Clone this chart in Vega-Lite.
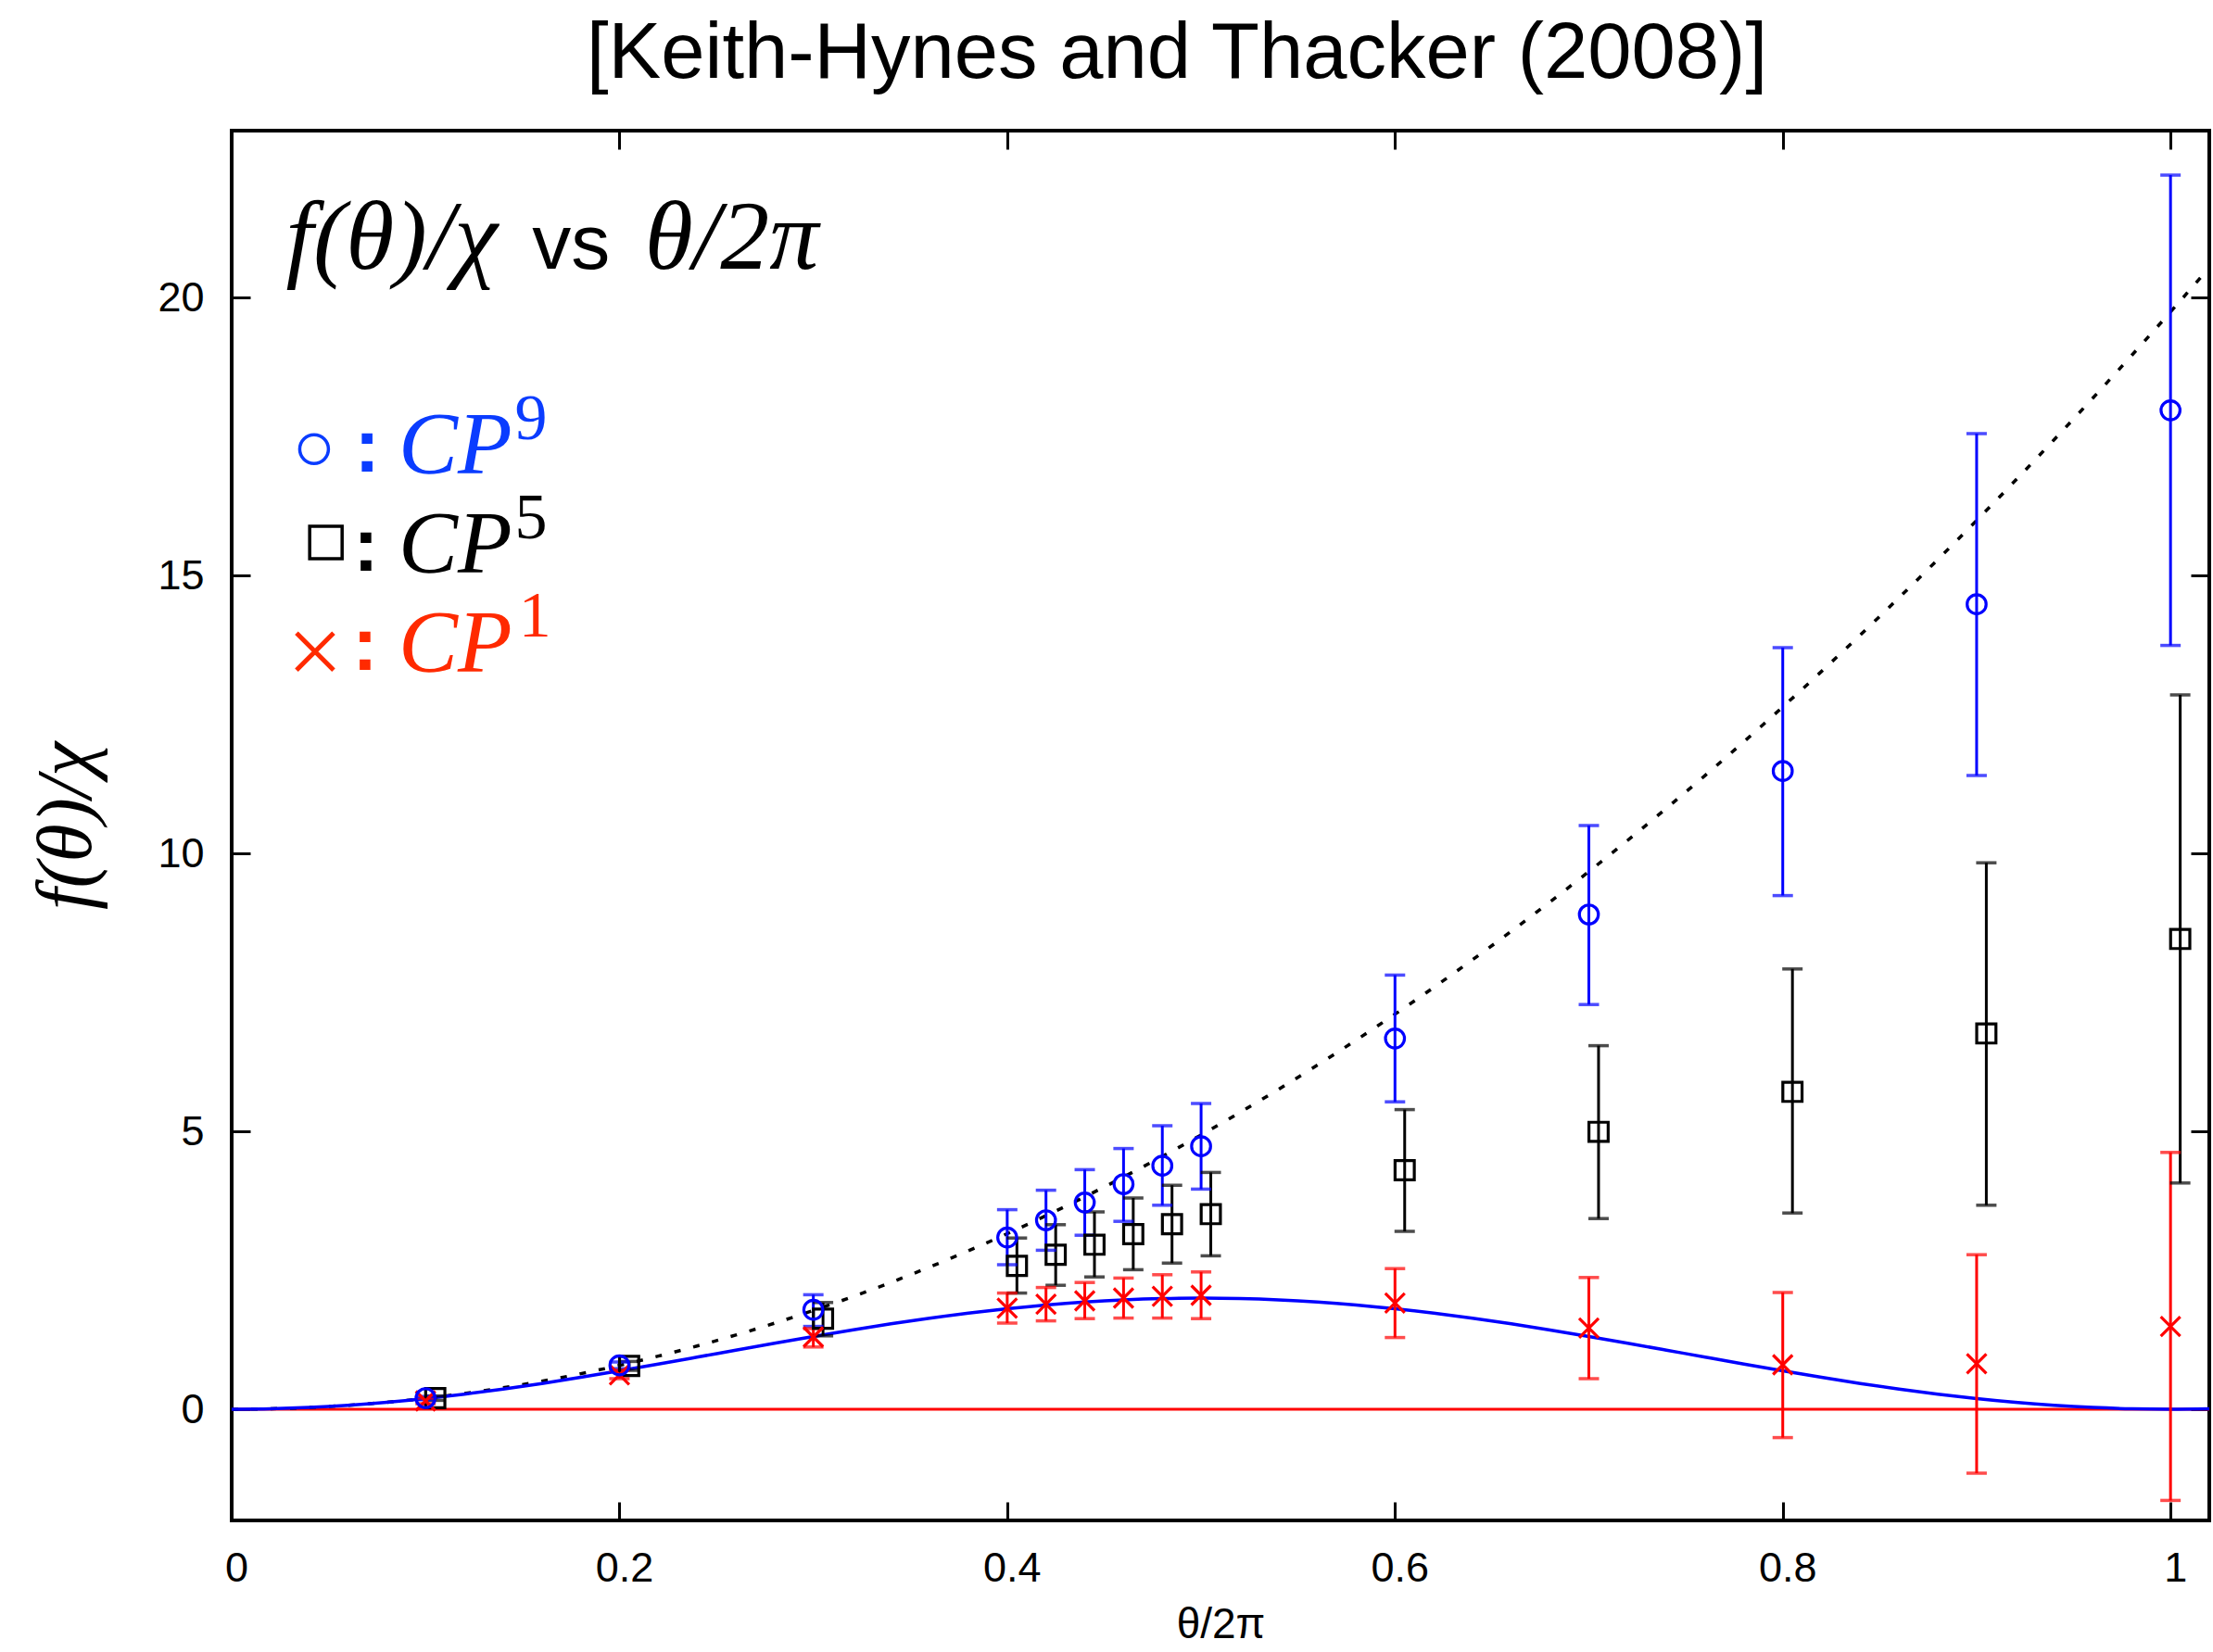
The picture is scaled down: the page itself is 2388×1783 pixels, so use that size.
{
  "$schema": "https://vega.github.io/schema/vega-lite/v6.json",
  "width": 2134,
  "height": 1500,
  "autosize": {"type": "none"},
  "padding": {"left": 250, "top": 141, "right": 4, "bottom": 142},
  "background": "white",
  "config": {
    "view": {"stroke": "black", "strokeWidth": 4},
    "axis": {"grid": false, "domain": false, "tickColor": "black", "tickWidth": 3, "tickSize": -20, "labelColor": "black", "titleColor": "black"}
  },
  "title": {
    "text": "[Keith-Hynes and Thacker (2008)]",
    "font": "Liberation Sans",
    "fontSize": 85,
    "fontWeight": "normal",
    "color": "black",
    "anchor": "middle",
    "frame": "group",
    "dx": -47,
    "offset": -29,
    "baseline": "alphabetic"
  },
  "datasets": {
    "zero": [{"x": 0, "y": 0}, {"x": 1.02, "y": 0}],
    "quad": [
      {"x": 0, "y": 0}, {"x": 0.02, "y": 0.0079}, {"x": 0.04, "y": 0.0316}, {"x": 0.06, "y": 0.0711}, {"x": 0.08, "y": 0.1263},
      {"x": 0.1, "y": 0.1974}, {"x": 0.12, "y": 0.2843}, {"x": 0.14, "y": 0.3869}, {"x": 0.16, "y": 0.5053}, {"x": 0.18, "y": 0.6396},
      {"x": 0.2, "y": 0.7896}, {"x": 0.22, "y": 0.9554}, {"x": 0.24, "y": 1.137}, {"x": 0.26, "y": 1.3344}, {"x": 0.28, "y": 1.5476},
      {"x": 0.3, "y": 1.7766}, {"x": 0.32, "y": 2.0214}, {"x": 0.34, "y": 2.2819}, {"x": 0.36, "y": 2.5583}, {"x": 0.38, "y": 2.8505},
      {"x": 0.4, "y": 3.1584}, {"x": 0.42, "y": 3.4821}, {"x": 0.44, "y": 3.8217}, {"x": 0.46, "y": 4.177}, {"x": 0.48, "y": 4.5481},
      {"x": 0.5, "y": 4.935}, {"x": 0.52, "y": 5.3377}, {"x": 0.54, "y": 5.7562}, {"x": 0.56, "y": 6.1905}, {"x": 0.58, "y": 6.6406},
      {"x": 0.6, "y": 7.1064}, {"x": 0.62, "y": 7.5881}, {"x": 0.64, "y": 8.0856}, {"x": 0.66, "y": 8.5988}, {"x": 0.68, "y": 9.1279},
      {"x": 0.7, "y": 9.6726}, {"x": 0.72, "y": 10.2332}, {"x": 0.74, "y": 10.8096}, {"x": 0.76, "y": 11.4018}, {"x": 0.78, "y": 12.0097},
      {"x": 0.8, "y": 12.6335}, {"x": 0.82, "y": 13.273}, {"x": 0.84, "y": 13.9284}, {"x": 0.86, "y": 14.5995}, {"x": 0.88, "y": 15.2864},
      {"x": 0.9, "y": 15.9891}, {"x": 0.92, "y": 16.7076}, {"x": 0.94, "y": 17.4419}, {"x": 0.96, "y": 18.192}, {"x": 0.98, "y": 18.9578},
      {"x": 1.0, "y": 19.7392}, {"x": 1.02, "y": 20.5366}
    ],
    "dig": [
      {"x": 0, "y": 0}, {"x": 0.02, "y": 0.0079}, {"x": 0.04, "y": 0.0314}, {"x": 0.06, "y": 0.0702}, {"x": 0.08, "y": 0.1237},
      {"x": 0.1, "y": 0.191}, {"x": 0.12, "y": 0.271}, {"x": 0.14, "y": 0.3626}, {"x": 0.16, "y": 0.4642}, {"x": 0.18, "y": 0.5742},
      {"x": 0.2, "y": 0.691}, {"x": 0.22, "y": 0.8126}, {"x": 0.24, "y": 0.9372}, {"x": 0.26, "y": 1.0628}, {"x": 0.28, "y": 1.1874},
      {"x": 0.3, "y": 1.309}, {"x": 0.32, "y": 1.4258}, {"x": 0.34, "y": 1.5358}, {"x": 0.36, "y": 1.6374}, {"x": 0.38, "y": 1.729},
      {"x": 0.4, "y": 1.809}, {"x": 0.42, "y": 1.8763}, {"x": 0.44, "y": 1.9298}, {"x": 0.46, "y": 1.9686}, {"x": 0.48, "y": 1.9921},
      {"x": 0.5, "y": 2.0}, {"x": 0.52, "y": 1.9921}, {"x": 0.54, "y": 1.9686}, {"x": 0.56, "y": 1.9298}, {"x": 0.58, "y": 1.8763},
      {"x": 0.6, "y": 1.809}, {"x": 0.62, "y": 1.729}, {"x": 0.64, "y": 1.6374}, {"x": 0.66, "y": 1.5358}, {"x": 0.68, "y": 1.4258},
      {"x": 0.7, "y": 1.309}, {"x": 0.72, "y": 1.1874}, {"x": 0.74, "y": 1.0628}, {"x": 0.76, "y": 0.9372}, {"x": 0.78, "y": 0.8126},
      {"x": 0.8, "y": 0.691}, {"x": 0.82, "y": 0.5742}, {"x": 0.84, "y": 0.4642}, {"x": 0.86, "y": 0.3626}, {"x": 0.88, "y": 0.271},
      {"x": 0.9, "y": 0.191}, {"x": 0.92, "y": 0.1237}, {"x": 0.94, "y": 0.0702}, {"x": 0.96, "y": 0.0314}, {"x": 0.98, "y": 0.0079},
      {"x": 1.0, "y": 0}, {"x": 1.02, "y": 0.0079}
    ],
    "points": [
      {"series": "CP5", "x": 0.105, "y": 0.2, "lo": 0.16, "hi": 0.24},
      {"series": "CP5", "x": 0.205, "y": 0.78, "lo": 0.7, "hi": 0.86},
      {"series": "CP5", "x": 0.305, "y": 1.63, "lo": 1.32, "hi": 1.92},
      {"series": "CP5", "x": 0.405, "y": 2.58, "lo": 2.09, "hi": 3.08},
      {"series": "CP5", "x": 0.425, "y": 2.78, "lo": 2.23, "hi": 3.32},
      {"series": "CP5", "x": 0.445, "y": 2.96, "lo": 2.38, "hi": 3.55},
      {"series": "CP5", "x": 0.465, "y": 3.15, "lo": 2.51, "hi": 3.8},
      {"series": "CP5", "x": 0.485, "y": 3.33, "lo": 2.63, "hi": 4.03},
      {"series": "CP5", "x": 0.505, "y": 3.51, "lo": 2.76, "hi": 4.26},
      {"series": "CP5", "x": 0.605, "y": 4.3, "lo": 3.2, "hi": 5.39},
      {"series": "CP5", "x": 0.705, "y": 4.99, "lo": 3.43, "hi": 6.54},
      {"series": "CP5", "x": 0.805, "y": 5.71, "lo": 3.53, "hi": 7.92},
      {"series": "CP5", "x": 0.905, "y": 6.76, "lo": 3.67, "hi": 9.83},
      {"series": "CP5", "x": 1.005, "y": 8.46, "lo": 4.07, "hi": 12.85},
      {"series": "CP1", "x": 0.1, "y": 0.15, "lo": 0.1, "hi": 0.2},
      {"series": "CP1", "x": 0.2, "y": 0.62, "lo": 0.55, "hi": 0.7},
      {"series": "CP1", "x": 0.3, "y": 1.3, "lo": 1.12, "hi": 1.45},
      {"series": "CP1", "x": 0.4, "y": 1.82, "lo": 1.55, "hi": 2.09},
      {"series": "CP1", "x": 0.42, "y": 1.89, "lo": 1.59, "hi": 2.19},
      {"series": "CP1", "x": 0.44, "y": 1.95, "lo": 1.63, "hi": 2.28},
      {"series": "CP1", "x": 0.46, "y": 2.0, "lo": 1.64, "hi": 2.36},
      {"series": "CP1", "x": 0.48, "y": 2.03, "lo": 1.64, "hi": 2.42},
      {"series": "CP1", "x": 0.5, "y": 2.05, "lo": 1.63, "hi": 2.47},
      {"series": "CP1", "x": 0.6, "y": 1.91, "lo": 1.29, "hi": 2.53},
      {"series": "CP1", "x": 0.7, "y": 1.46, "lo": 0.55, "hi": 2.37},
      {"series": "CP1", "x": 0.8, "y": 0.8, "lo": -0.51, "hi": 2.1},
      {"series": "CP1", "x": 0.9, "y": 0.82, "lo": -1.15, "hi": 2.78},
      {"series": "CP1", "x": 1.0, "y": 1.49, "lo": -1.64, "hi": 4.62},
      {"series": "CP9", "x": 0.1, "y": 0.2, "lo": 0.17, "hi": 0.23},
      {"series": "CP9", "x": 0.2, "y": 0.79, "lo": 0.73, "hi": 0.85},
      {"series": "CP9", "x": 0.3, "y": 1.79, "lo": 1.49, "hi": 2.06},
      {"series": "CP9", "x": 0.4, "y": 3.09, "lo": 2.6, "hi": 3.59},
      {"series": "CP9", "x": 0.42, "y": 3.4, "lo": 2.86, "hi": 3.94},
      {"series": "CP9", "x": 0.44, "y": 3.72, "lo": 3.13, "hi": 4.31},
      {"series": "CP9", "x": 0.46, "y": 4.05, "lo": 3.38, "hi": 4.69},
      {"series": "CP9", "x": 0.48, "y": 4.38, "lo": 3.67, "hi": 5.1},
      {"series": "CP9", "x": 0.5, "y": 4.73, "lo": 3.96, "hi": 5.5},
      {"series": "CP9", "x": 0.6, "y": 6.67, "lo": 5.53, "hi": 7.81},
      {"series": "CP9", "x": 0.7, "y": 8.9, "lo": 7.28, "hi": 10.5},
      {"series": "CP9", "x": 0.8, "y": 11.48, "lo": 9.24, "hi": 13.7},
      {"series": "CP9", "x": 0.9, "y": 14.48, "lo": 11.4, "hi": 17.55},
      {"series": "CP9", "x": 1.0, "y": 17.97, "lo": 13.74, "hi": 22.2}
    ]
  },
  "resolve": {"axis": {"x": "independent", "y": "independent"}},
  "layer": [
    {
      "data": {"name": "zero"},
      "mark": {"type": "line", "color": "#ff0000", "strokeWidth": 3},
      "encoding": {
        "x": {"field": "x", "type": "quantitative", "scale": {"domain": [0, 1.02], "nice": false, "zero": false},
          "axis": {"orient": "bottom", "values": [0, 0.2, 0.4, 0.6, 0.8, 1], "format": "~g", "labelFlush": false, "labelOffset": 5,
            "labelFont": "Liberation Sans", "labelFontSize": 45, "labelPadding": 49,
            "title": "θ/2π", "titleFont": "Liberation Sans", "titleFontSize": 46, "titleFontWeight": "normal", "titlePadding": 16}},
        "y": {"field": "y", "type": "quantitative", "scale": {"domain": [-2, 23], "nice": false, "zero": false},
          "axis": {"orient": "left", "values": [0, 5, 10, 15, 20], "labelFont": "Liberation Sans", "labelFontSize": 45, "labelPadding": 50,
            "title": "f(θ)/χ", "titleFont": "Liberation Serif", "titleFontStyle": "italic", "titleFontSize": 84, "titleFontWeight": "normal", "titlePadding": 54}}
      }
    },
    {
      "data": {"name": "quad"},
      "mark": {"type": "line", "color": "black", "strokeWidth": 3.5, "strokeDash": [7, 14], "interpolate": "monotone"},
      "encoding": {
        "x": {"field": "x", "type": "quantitative", "axis": {"orient": "top", "values": [0, 0.2, 0.4, 0.6, 0.8, 1], "labels": false, "title": null}},
        "y": {"field": "y", "type": "quantitative", "axis": {"orient": "right", "values": [0, 5, 10, 15, 20], "labels": false, "title": null}}
      }
    },
    {
      "data": {"name": "dig"},
      "mark": {"type": "line", "color": "#0000ff", "strokeWidth": 3.5, "interpolate": "monotone"},
      "encoding": {
        "x": {"field": "x", "type": "quantitative", "axis": null},
        "y": {"field": "y", "type": "quantitative", "axis": null}
      }
    },
    {
      "data": {"name": "points"},
      "layer": [
        {
          "mark": {"type": "rule", "strokeWidth": 3},
          "encoding": {
            "x": {"field": "x", "type": "quantitative", "axis": null},
            "y": {"field": "lo", "type": "quantitative", "axis": null},
            "y2": {"field": "hi"},
            "color": {"field": "series", "type": "nominal", "scale": {"domain": ["CP9", "CP5", "CP1"], "range": ["#0000ff", "#000000", "#ff0000"]}, "legend": null}
          }
        },
        {
          "mark": {"type": "tick", "orient": "horizontal", "size": 22, "thickness": 3.5},
          "encoding": {
            "x": {"field": "x", "type": "quantitative", "axis": null},
            "y": {"field": "lo", "type": "quantitative", "axis": null},
            "color": {"field": "series", "type": "nominal", "legend": null}
          }
        },
        {
          "mark": {"type": "tick", "orient": "horizontal", "size": 22, "thickness": 3.5},
          "encoding": {
            "x": {"field": "x", "type": "quantitative", "axis": null},
            "y": {"field": "hi", "type": "quantitative", "axis": null},
            "color": {"field": "series", "type": "nominal", "legend": null}
          }
        },
        {
          "mark": {"type": "point", "filled": false, "strokeWidth": 3.2, "opacity": 1},
          "encoding": {
            "x": {"field": "x", "type": "quantitative", "axis": null},
            "y": {"field": "y", "type": "quantitative", "axis": null},
            "color": {"field": "series", "type": "nominal", "legend": null},
            "shape": {"field": "series", "type": "nominal", "scale": {"domain": ["CP9", "CP5", "CP1"], "range": ["circle", "square", "M-1,-1L1,1M-1,1L1,-1"]}, "legend": null},
            "size": {"field": "series", "type": "nominal", "scale": {"domain": ["CP9", "CP5", "CP1"], "range": [420, 441, 441]}, "legend": null}
          }
        }
      ]
    },
    {
      "data": {"values": [{"t": "f(θ)/χ"}]},
      "mark": {"type": "text", "font": "Liberation Serif", "fontStyle": "italic", "fontSize": 106, "align": "left", "baseline": "alphabetic", "color": "black"},
      "encoding": {"x": {"datum": 0.028, "type": "quantitative", "axis": null}, "y": {"datum": 20.52, "type": "quantitative", "axis": null}, "text": {"field": "t"}}
    },
    {
      "data": {"values": [{"t": "vs"}]},
      "mark": {"type": "text", "font": "Liberation Sans", "fontSize": 84, "align": "left", "baseline": "alphabetic", "color": "black"},
      "encoding": {"x": {"datum": 0.155, "type": "quantitative", "axis": null}, "y": {"datum": 20.52, "type": "quantitative", "axis": null}, "text": {"field": "t"}}
    },
    {
      "data": {"values": [{"t": "θ/2π"}]},
      "mark": {"type": "text", "font": "Liberation Serif", "fontStyle": "italic", "fontSize": 106, "align": "left", "baseline": "alphabetic", "color": "black"},
      "encoding": {"x": {"datum": 0.213, "type": "quantitative", "axis": null}, "y": {"datum": 20.52, "type": "quantitative", "axis": null}, "text": {"field": "t"}}
    },
    {
      "data": {"values": [{"s": "CP9"}]},
      "mark": {"type": "point", "shape": "circle", "size": 961, "filled": false, "stroke": "#0a3cff", "strokeWidth": 3.5, "opacity": 1},
      "encoding": {"x": {"datum": 0.0425, "type": "quantitative", "axis": null}, "y": {"datum": 17.27, "type": "quantitative", "axis": null}}
    },
    {
      "data": {"values": [{"s": "CP5"}]},
      "mark": {"type": "point", "shape": "square", "size": 1225, "filled": false, "stroke": "black", "strokeWidth": 3.5, "opacity": 1},
      "encoding": {"x": {"datum": 0.0486, "type": "quantitative", "axis": null}, "y": {"datum": 15.59, "type": "quantitative", "axis": null}}
    },
    {
      "data": {"values": [{"s": "CP1"}]},
      "mark": {"type": "point", "shape": "M-1,-1L1,1M-1,1L1,-1", "size": 1600, "filled": false, "stroke": "#ff2a00", "strokeWidth": 5, "opacity": 1},
      "encoding": {"x": {"datum": 0.043, "type": "quantitative", "axis": null}, "y": {"datum": 13.63, "type": "quantitative", "axis": null}}
    },
    {
      "data": {"values": [{"t": ":", "c": "CP9"}]},
      "mark": {"type": "text", "font": "Liberation Sans", "fontWeight": "bold", "fontSize": 82, "align": "center", "baseline": "alphabetic", "color": "#0a3cff"},
      "encoding": {"x": {"datum": 0.0698, "type": "quantitative", "axis": null}, "y": {"datum": 16.87, "type": "quantitative", "axis": null}, "text": {"field": "t"}}
    },
    {
      "data": {"values": [{"t": ":", "c": "CP5"}]},
      "mark": {"type": "text", "font": "Liberation Sans", "fontWeight": "bold", "fontSize": 82, "align": "center", "baseline": "alphabetic", "color": "black"},
      "encoding": {"x": {"datum": 0.0693, "type": "quantitative", "axis": null}, "y": {"datum": 15.08, "type": "quantitative", "axis": null}, "text": {"field": "t"}}
    },
    {
      "data": {"values": [{"t": ":", "c": "CP1"}]},
      "mark": {"type": "text", "font": "Liberation Sans", "fontWeight": "bold", "fontSize": 82, "align": "center", "baseline": "alphabetic", "color": "#ff2a00"},
      "encoding": {"x": {"datum": 0.0688, "type": "quantitative", "axis": null}, "y": {"datum": 13.3, "type": "quantitative", "axis": null}, "text": {"field": "t"}}
    },
    {
      "data": {"values": [{"t": "CP"}]},
      "mark": {"type": "text", "font": "Liberation Serif", "fontStyle": "italic", "fontSize": 96, "align": "left", "baseline": "alphabetic", "color": "#0a3cff"},
      "encoding": {"x": {"datum": 0.086, "type": "quantitative", "axis": null}, "y": {"datum": 16.83, "type": "quantitative", "axis": null}, "text": {"field": "t"}}
    },
    {
      "data": {"values": [{"t": "CP"}]},
      "mark": {"type": "text", "font": "Liberation Serif", "fontStyle": "italic", "fontSize": 96, "align": "left", "baseline": "alphabetic", "color": "black"},
      "encoding": {"x": {"datum": 0.086, "type": "quantitative", "axis": null}, "y": {"datum": 15.05, "type": "quantitative", "axis": null}, "text": {"field": "t"}}
    },
    {
      "data": {"values": [{"t": "CP"}]},
      "mark": {"type": "text", "font": "Liberation Serif", "fontStyle": "italic", "fontSize": 96, "align": "left", "baseline": "alphabetic", "color": "#ff2a00"},
      "encoding": {"x": {"datum": 0.086, "type": "quantitative", "axis": null}, "y": {"datum": 13.27, "type": "quantitative", "axis": null}, "text": {"field": "t"}}
    },
    {
      "data": {"values": [{"t": "9"}]},
      "mark": {"type": "text", "font": "Liberation Serif", "fontSize": 70, "align": "left", "baseline": "alphabetic", "color": "#0a3cff"},
      "encoding": {"x": {"datum": 0.146, "type": "quantitative", "axis": null}, "y": {"datum": 17.45, "type": "quantitative", "axis": null}, "text": {"field": "t"}}
    },
    {
      "data": {"values": [{"t": "5"}]},
      "mark": {"type": "text", "font": "Liberation Serif", "fontSize": 70, "align": "left", "baseline": "alphabetic", "color": "black"},
      "encoding": {"x": {"datum": 0.146, "type": "quantitative", "axis": null}, "y": {"datum": 15.67, "type": "quantitative", "axis": null}, "text": {"field": "t"}}
    },
    {
      "data": {"values": [{"t": "1"}]},
      "mark": {"type": "text", "font": "Liberation Serif", "fontSize": 70, "align": "left", "baseline": "alphabetic", "color": "#ff2a00"},
      "encoding": {"x": {"datum": 0.148, "type": "quantitative", "axis": null}, "y": {"datum": 13.9, "type": "quantitative", "axis": null}, "text": {"field": "t"}}
    }
  ]
}
